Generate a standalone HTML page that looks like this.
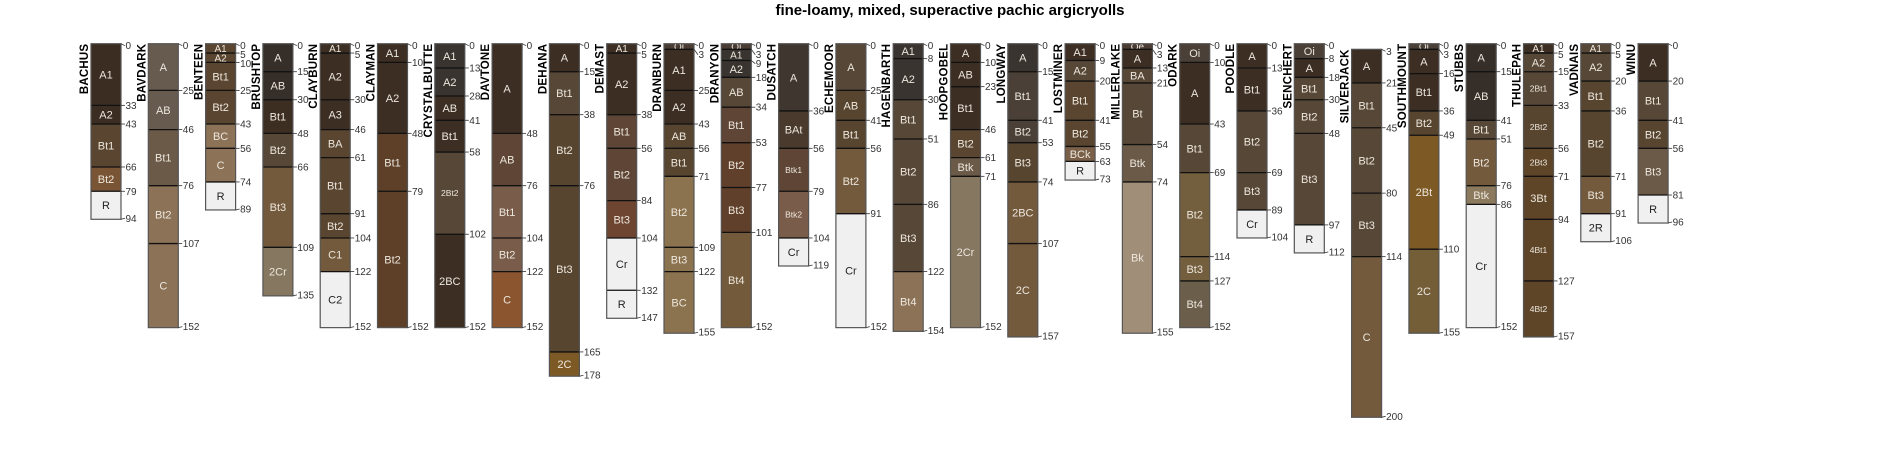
<!DOCTYPE html>
<html><head><meta charset="utf-8"><style>
html,body{margin:0;padding:0;background:#fff;}
svg{display:block;font-family:"Liberation Sans",sans-serif;}
</style></head><body>
<svg id="chart" width="1900" height="450" viewBox="0 0 1900 450">
<text x="950" y="15" text-anchor="middle" font-size="15" font-weight="bold" fill="#000">fine-loamy, mixed, superactive pachic argicryolls</text>
<g id="profiles"></g>
</svg>
<script>
const profNames = ["BACHUS","BAVDARK","BENTEEN","BRUSHTOP","CLAYBURN","CLAYMAN","CRYSTALBUTTE","DAVTONE","DEHANA","DEMAST","DRANBURN","DRANYON","DUSATCH","ECHEMOOR","HAGENBARTH","HOOPGOBEL","LONGWAY","LOSTMINER","MILLERLAKE","ODARK","POODLE","SENCHERT","SILVERJACK","SOUTHMOUNT","STUBBS","THULEPAH","VADNAIS","WINU"];
const horizonNames = [
["A1","A2","Bt1","Bt2","R"],
["A","AB","Bt1","Bt2","C"],
["A1","A2","Bt1","Bt2","BC","C","R"],
["A","AB","Bt1","Bt2","Bt3","2Cr"],
["A1","A2","A3","BA","Bt1","Bt2","C1","C2"],
["A1","A2","Bt1","Bt2"],
["A1","A2","AB","Bt1","2Bt2","2BC"],
["A","AB","Bt1","Bt2","C"],
["A","Bt1","Bt2","Bt3","2C"],
["A1","A2","Bt1","Bt2","Bt3","Cr","R"],
["Oi","A1","A2","AB","Bt1","Bt2","Bt3","BC"],
["Oi","A1","A2","AB","Bt1","Bt2","Bt3","Bt4"],
["A","BAt","Btk1","Btk2","Cr"],
["A","AB","Bt1","Bt2","Cr"],
["A1","A2","Bt1","Bt2","Bt3","Bt4"],
["A","AB","Bt1","Bt2","Btk","2Cr"],
["A","Bt1","Bt2","Bt3","2BC","2C"],
["A1","A2","Bt1","Bt2","BCk","R"],
["Oe","A","BA","Bt","Btk","Bk"],
["Oi","A","Bt1","Bt2","Bt3","Bt4"],
["A","Bt1","Bt2","Bt3","Cr"],
["Oi","A","Bt1","Bt2","Bt3","R"],
["A","Bt1","Bt2","Bt3","C"],
["Oi","A","Bt1","Bt2","2Bt","2C"],
["A","AB","Bt1","Bt2","Btk","Cr"],
["A1","A2","2Bt1","2Bt2","2Bt3","3Bt","4Bt1","4Bt2"],
["A1","A2","Bt1","Bt2","Bt3","2R"],
["A","Bt1","Bt2","Bt3","R"]
];
const horizonTops = [
[0,33,43,66,79],
[0,25,46,76,107],
[0,5,10,25,43,56,74],
[0,15,30,48,66,109],
[0,5,30,46,61,91,104,122],
[0,10,48,79],
[0,13,28,41,58,102],
[0,48,76,104,122],
[0,15,38,76,165],
[0,5,38,56,84,104,132],
[0,3,25,43,56,71,109,122],
[0,3,9,18,34,53,77,101],
[0,36,56,79,104],
[0,25,41,56,91],
[0,8,30,51,86,122],
[0,10,23,46,61,71],
[0,15,41,53,74,107],
[0,9,20,41,55,63],
[0,3,13,21,54,74],
[0,10,43,69,114,127],
[0,13,36,69,89],
[0,8,18,30,48,97],
[3,21,45,80,114],
[0,3,16,36,49,110],
[0,15,41,51,76,86],
[0,5,15,33,56,71,94,127],
[0,5,20,36,71,91],
[0,20,41,56,81]
];
const profileBottoms = [94,152,89,135,152,152,152,152,178,147,155,152,119,152,154,152,157,73,155,152,104,112,200,155,152,157,106,96];
const horizonColors = [
["#3b2d21","#3b2d21","#5a4630","#7a5535","#f0f0f0"],
["#675b50","#675b50","#6b5a48","#8c7358","#8c7358"],
["#5a4530","#5a4530","#5a4530","#5a4530","#8c7358","#8c7358","#f0f0f0"],
["#362e28","#362e28","#3d2e22","#574737","#745a3d","#857760"],
["#3c2e22","#3c2e22","#3c2e22","#5a4530","#5a4530","#5a4530","#735a3d","#f0f0f0"],
["#3c2e22","#3c2e22","#5e4028","#5e4028"],
["#3a3430","#3a3430","#3c2e22","#3c2e22","#574737","#3c2e22"],
["#3c2e22","#5e4535","#7a5c4a","#7a5c4a","#8b5530"],
["#3c2e22","#574737","#574530","#574530","#7d5a25"],
["#3c2e22","#3c2e22","#5e4535","#5e4535","#6e4530","#f0f0f0","#f0f0f0"],
["#4a3c32","#3c2e22","#3c2e22","#574530","#574530","#8c7350","#8c7350","#8c7350"],
["#4a3c32","#3a3430","#3a3430","#574737","#5e4535","#60402a","#60402a","#735a3a"],
["#3f3630","#4a3a2d","#5e4535","#7a5c4a","#f0f0f0"],
["#574737","#574530","#574530","#745a3d","#f0f0f0"],
["#3a3430","#3a3430","#574737","#574737","#574737","#8c7358"],
["#3c2e22","#3c2e22","#3c2e22","#5a4530","#6b5a48","#857760"],
["#3a3430","#4a4038","#4a4038","#574530","#735a3d","#735a3d"],
["#3c2e22","#574737","#5a4530","#5a4530","#7a6048","#f0f0f0"],
["#4a3c32","#3c2e22","#574737","#574737","#6b5a48","#a08e78"],
["#4a4038","#3c2e22","#574737","#735e3d","#735e3d","#6b5e4a"],
["#3c2e22","#3c2e22","#574737","#574737","#f0f0f0"],
["#4a4038","#3c2e22","#574737","#574737","#574737","#f0f0f0"],
["#3c2e22","#574737","#574737","#574737","#735a3d"],
["#4a4038","#3c2e22","#3c2e22","#574530","#7d5a25","#735e38"],
["#362e28","#362e28","#574737","#745a3d","#8c7a5e","#f0f0f0"],
["#3c2e22","#574737","#574737","#574530","#5e4528","#5e4528","#5e4528","#5e4528"],
["#574737","#574737","#574530","#574530","#735a3d","#f0f0f0"],
["#3c2e22","#574737","#574530","#6b5a48","#f0f0f0"]
];

const NS = "http://www.w3.org/2000/svg";
const TOP = 43.7, SCALE = 1.868, X0 = 91, STEP = 57.3, COLW = 30;
const yOf = d => TOP + d * SCALE;
const xOf = i => X0 + i * STEP;
const root = document.getElementById("profiles");
function mk(tag, attrs, parent) {
  const e = document.createElementNS(NS, tag);
  for (const k in attrs) e.setAttribute(k, attrs[k]);
  parent.appendChild(e);
  return e;
}
profNames.forEach((name, i) => {
  const g = mk("g", {}, root);
  
  
  const x = xOf(i);
  const tops = horizonTops[i];
  const bot = profileBottoms[i];
  const nm = mk("text", {x: 0, y: 0, "text-anchor": "end", "font-size": 11.5, "font-weight": "bold", "letter-spacing": "0.2", fill: "#000",
    transform: `translate(${x - 3},${yOf(tops[0])}) rotate(-90)`}, g);
  nm.textContent = name;
  
  
  tops.forEach((t, j) => {
    const b = j + 1 < tops.length ? tops[j + 1] : bot;
    const r = mk("rect", {x: x, y: yOf(t), width: COLW, height: yOf(b) - yOf(t), fill: horizonColors[i][j]}, g);
    
    
    if (j > 0) mk("line", {x1: x, x2: x + COLW, y1: yOf(t), y2: yOf(t), stroke: "#111", "stroke-width": 1.3}, g);
    const lbl = horizonNames[i][j];
    const h = yOf(b) - yOf(t);
    const fs = lbl.length >= 4 ? 8.5 : (h < 12 ? 10 : 11);
    const light = horizonColors[i][j] === "#f0f0f0";
    const tx = mk("text", {x: x + COLW / 2, y: (yOf(t) + yOf(b)) / 2 + fs * 0.36, "text-anchor": "middle", "font-size": fs, fill: light ? "#222" : "#ece6dc"}, g);
    tx.textContent = lbl;
    
    
  });
  mk("rect", {x: x, y: yOf(tops[0]), width: COLW, height: yOf(bot) - yOf(tops[0]), fill: "none", stroke: "#555", "stroke-width": 1.2}, g);
  const depths = tops.concat([bot]);
  let prev = -100;
  depths.forEach((d, k) => {
    const yd = yOf(d);
    let ly = Math.max(yd + (k === 0 ? 2 : 0), prev + 9);
    if (k === depths.length - 1) ly = Math.max(yd - 1, prev + 9);
    prev = ly;
    if (Math.abs(ly - yd) > 2.5 || k === 0 || k === depths.length - 1) {
      mk("line", {x1: x + COLW, y1: yd, x2: x + COLW + 4, y2: ly, stroke: "#333", "stroke-width": 0.8}, g);
    } else {
      mk("line", {x1: x + COLW, y1: yd, x2: x + COLW + 4, y2: yd, stroke: "#333", "stroke-width": 0.8}, g);
    }
    const dl = mk("text", {x: x + COLW + 4.5, y: ly + 3.5, "font-size": 10, fill: "#333"}, g);
    dl.textContent = d;
    
    
  });
});
</script>
</body></html>
